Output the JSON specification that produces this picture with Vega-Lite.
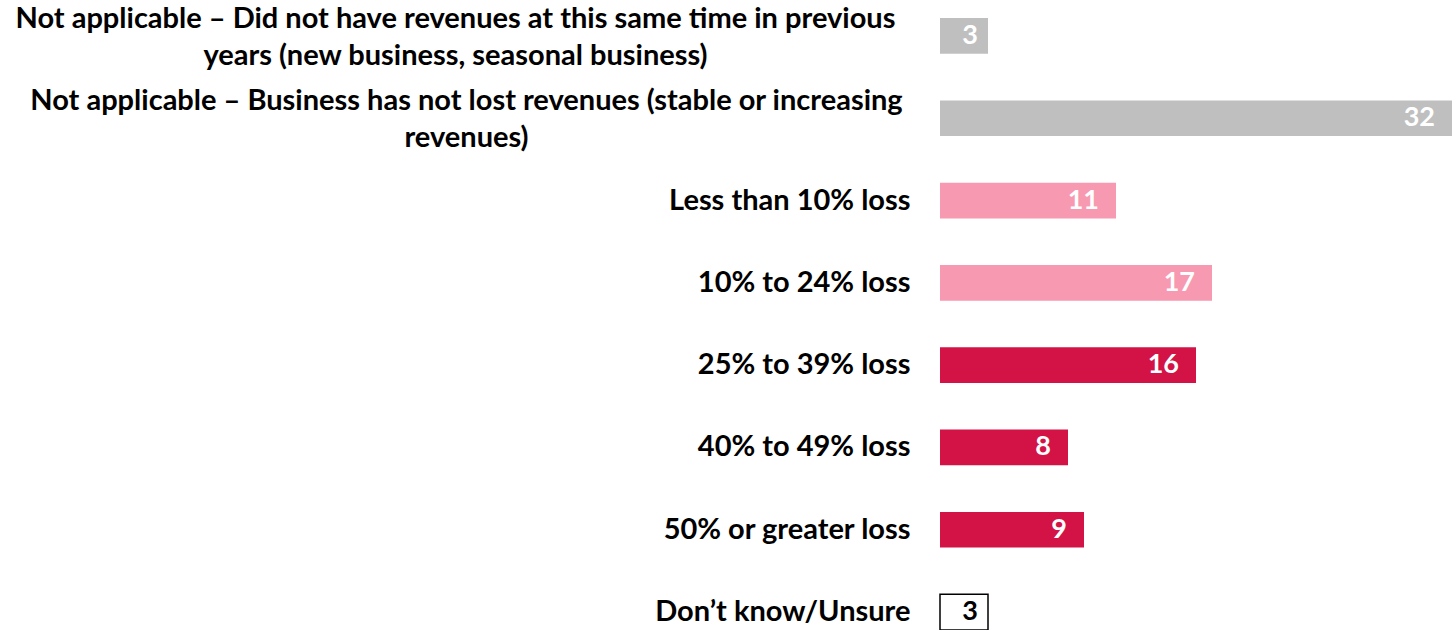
{
  "$schema": "https://vega.github.io/schema/vega-lite/v6.json",
  "autosize": {"type": "none"},
  "padding": {"left": 940, "top": 0, "right": 0, "bottom": 0},
  "width": 512,
  "height": 630,
  "background": "white",
  "config": {"view": {"stroke": null}, "font": "Lato"},
  "data": {
    "values": [
      {"category": "Not applicable – Did not have revenues at this same time in previous\nyears (new business, seasonal business)", "value": 3, "group": "na"},
      {"category": "Not applicable – Business has not lost revenues (stable or increasing\nrevenues)", "value": 32, "group": "na"},
      {"category": "Less than 10% loss", "value": 11, "group": "low"},
      {"category": "10% to 24% loss", "value": 17, "group": "low"},
      {"category": "25% to 39% loss", "value": 16, "group": "high"},
      {"category": "40% to 49% loss", "value": 8, "group": "high"},
      {"category": "50% or greater loss", "value": 9, "group": "high"},
      {"category": "Don’t know/Unsure", "value": 3, "group": "unsure"}
    ]
  },
  "encoding": {
    "y": {
      "field": "category",
      "type": "nominal",
      "sort": null,
      "scale": {"range": [0, 648], "paddingInner": 0.566, "paddingOuter": 0.22},
      "axis": {
        "title": null,
        "domain": false,
        "ticks": false,
        "labelFont": "Lato",
        "labelFontWeight": "bold",
        "labelFontSize": 29,
        "labelColor": "black",
        "labelLimit": 1000,
        "labelLineHeight": 37,
        "labelBaseline": "middle",
        "labelExpr": "split(datum.label, '\\n')",
        "labelAlign": {"condition": {"test": "indexof(datum.value, 'Not applicable') === 0", "value": "center"}, "value": "right"},
        "labelPadding": {
          "condition": [
            {"test": "indexof(datum.value, 'Not applicable – Did') === 0", "value": 485},
            {"test": "indexof(datum.value, 'Not applicable – Bus') === 0", "value": 474}
          ],
          "value": 30
        },
        "labelOffset": {"condition": {"test": "indexof(datum.value, 'Not applicable') === 0", "value": -17}, "value": 0}
      }
    }
  },
  "layer": [
    {
      "mark": {"type": "bar", "strokeWidth": 1.5},
      "encoding": {
        "x": {"field": "value", "type": "quantitative", "scale": {"domain": [0, 32], "nice": false}, "axis": null},
        "color": {
          "field": "group",
          "type": "nominal",
          "scale": {"domain": ["na", "low", "high", "unsure"], "range": ["#BFBFBF", "#F799B0", "#D31245", "#FFFFFF"]},
          "legend": null
        },
        "stroke": {
          "condition": {"test": "datum.group === 'unsure'", "value": "#000000"},
          "value": null
        }
      }
    },
    {
      "transform": [{"filter": "datum.value > 3"}],
      "mark": {"type": "text", "align": "right", "baseline": "middle", "dx": -17, "font": "Lato", "fontWeight": "bold", "fontSize": 27},
      "encoding": {
        "x": {"field": "value", "type": "quantitative"},
        "text": {"field": "value", "type": "quantitative"},
        "color": {"value": "white"}
      }
    },
    {
      "transform": [{"filter": "datum.value <= 3"}],
      "mark": {"type": "text", "align": "right", "baseline": "middle", "dx": -10, "font": "Lato", "fontWeight": "bold", "fontSize": 27},
      "encoding": {
        "x": {"field": "value", "type": "quantitative"},
        "text": {"field": "value", "type": "quantitative"},
        "color": {
          "condition": {"test": "datum.group === 'unsure'", "value": "black"},
          "value": "white"
        }
      }
    }
  ]
}
